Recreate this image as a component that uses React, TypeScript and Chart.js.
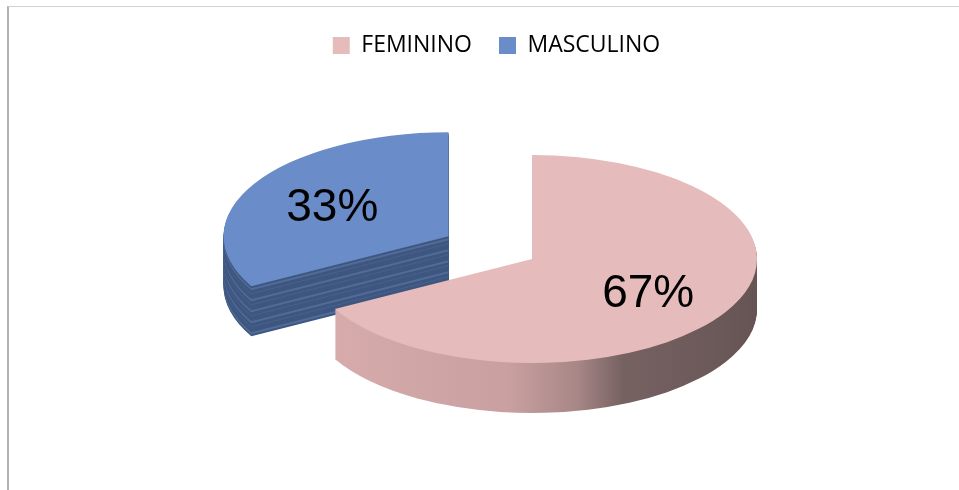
import React, { useEffect, useRef } from "react";
import { Chart, registerables } from "chart.js";

Chart.register(...registerables);

// ---- data ----
const categories = ["FEMININO", "MASCULINO"];
const percentages = [67, 33];

// ---- styles ----
const topColors = ["#e6bbbb", "#6a8cc8"];
const explodeOffsets = [0, 97];
const RADIUS = 225;
const CENTER_X = 532;
const CENTER_Y = 259;
const TILT = 0.462;
const DEPTH = 50;
const LABEL_FRACTION = 0.6;

function pinkSide(ctx: CanvasRenderingContext2D, el: any) {
  const g = ctx.createLinearGradient(el.x - RADIUS, 0, el.x + RADIUS, 0);
  g.addColorStop(0, "#d9adad");
  g.addColorStop(0.45, "#c99f9f");
  g.addColorStop(0.6, "#a88787");
  g.addColorStop(0.7, "#776262");
  g.addColorStop(1, "#665454");
  return g;
}

function blueSide(d: number) {
  const m = d % 11;
  if (m === 3 || m === 4) return "#526c98";
  if (m === 8) return "#48618c";
  return "#3e5781";
}

const pie3d = {
  id: "pie3d",
  beforeDatasetsDraw(chart: any) {
    const ctx: CanvasRenderingContext2D = chart.ctx;
    const meta = chart.getDatasetMeta(0);
    const arcs: any[] = meta.data;
    const order = arcs
      .map((el, i) => ({ i, s: Math.sin((el.startAngle + el.endAngle) / 2) }))
      .sort((a, b) => a.s - b.s)
      .map((o) => o.i);
    for (const i of order) {
      const el = arcs[i];
      const opts = el.options;
      const off = opts.offset || 0;
      const h = (el.startAngle + el.endAngle) / 2;
      for (let d = DEPTH; d >= 0; d--) {
        ctx.save();
        ctx.translate(CENTER_X - el.x, CENTER_Y + d);
        ctx.scale(1, TILT);
        ctx.translate(0, -el.y);
        ctx.translate(Math.cos(h) * off, Math.sin(h) * off);
        let fill: any = opts.backgroundColor;
        if (d > 0) fill = i === 0 ? pinkSide(ctx, el) : blueSide(d);
        el.options = { ...opts, offset: 0, backgroundColor: fill, borderWidth: 0 };
        el.draw(ctx);
        el.options = opts;
        ctx.restore();
      }
    }
    return false;
  },
  afterDraw(chart: any) {
    const ctx: CanvasRenderingContext2D = chart.ctx;
    const meta = chart.getDatasetMeta(0);
    ctx.save();
    ctx.font = '46px "Liberation Sans", Arial, sans-serif';
    ctx.fillStyle = "#000";
    ctx.textAlign = "center";
    ctx.textBaseline = "alphabetic";
    meta.data.forEach((el: any, i: number) => {
      const h = (el.startAngle + el.endAngle) / 2;
      const off = el.options.offset || 0;
      const r = off + el.outerRadius * LABEL_FRACTION;
      const x = CENTER_X + Math.cos(h) * r;
      const y = CENTER_Y + Math.sin(h) * r * TILT;
      ctx.fillText(percentages[i] + "%", x, y + 16.5);
    });
    ctx.restore();
  },
};

export default function App() {
  const ref = useRef<HTMLCanvasElement>(null);
  useEffect(() => {
    if (!ref.current) return;
    const chart = new Chart(ref.current, {
      type: "pie",
      data: {
        labels: categories,
        datasets: [
          {
            data: percentages,
            backgroundColor: topColors,
            borderWidth: 0,
            offset: explodeOffsets,
            radius: RADIUS,
          } as any,
        ],
      },
      options: {
        responsive: false,
        animation: false,
        events: [],
        layout: { padding: { top: 7, left: 34 } },
        plugins: {
          tooltip: { enabled: false },
          legend: {
            position: "top",
            labels: {
              boxWidth: 17,
              boxHeight: 17,
              padding: 27,
              color: "#000",
              font: { family: '"Open Sans", sans-serif', size: 23 },
            },
          },
        },
      } as any,
      plugins: [pie3d as any],
    });
    return () => chart.destroy();
  }, []);
  return (
    <div
      style={{
        position: "fixed",
        left: 0,
        top: 0,
        width: 959,
        height: 490,
        overflow: "hidden",
        background: "#fff",
      }}
    >
      <div
        style={{
          position: "absolute",
          left: 7,
          top: 6,
          width: 1200,
          height: 1200,
          borderTop: "1px solid #d2d2d2",
          borderLeft: "2px solid #b2b2b2",
        }}
      />
      <canvas
        ref={ref}
        width={959}
        height={490}
        style={{ position: "absolute", left: 0, top: 0, display: "block" }}
      />
    </div>
  );
}
